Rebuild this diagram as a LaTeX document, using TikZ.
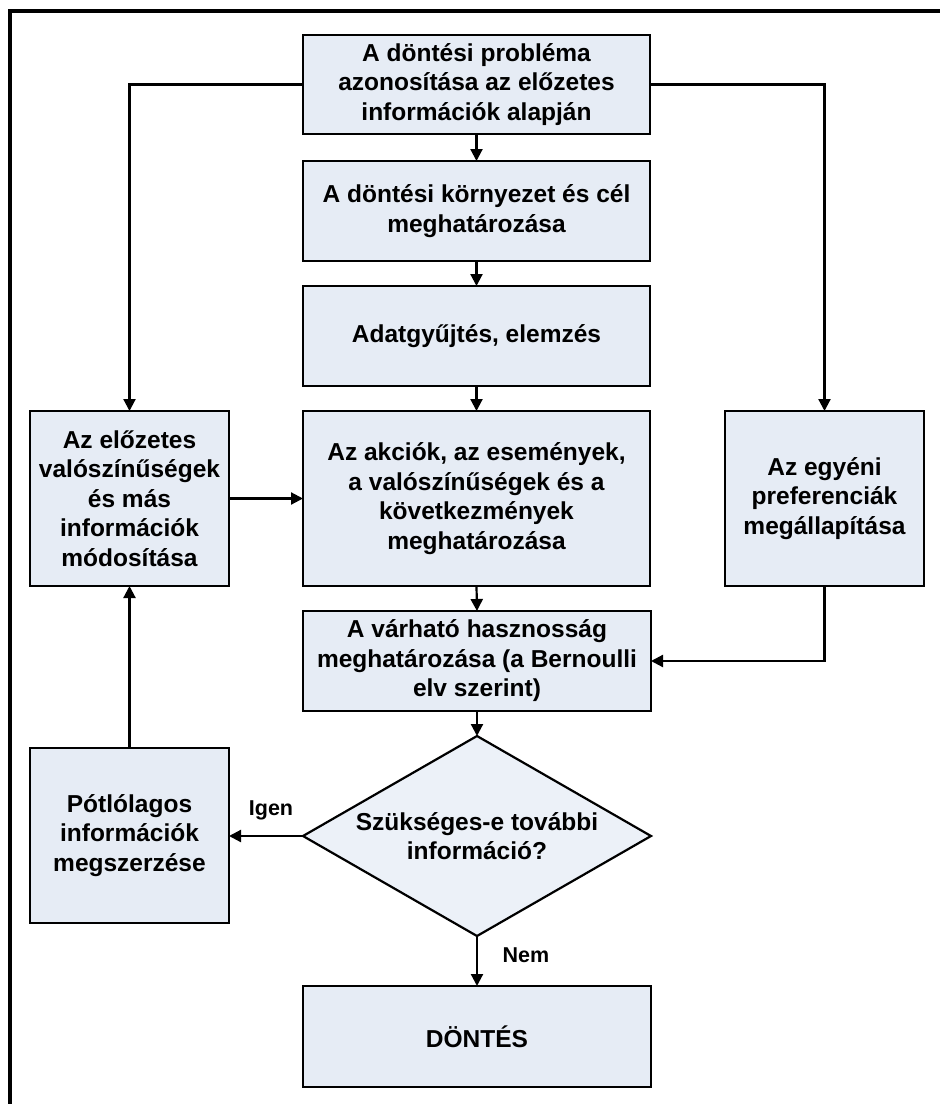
\documentclass[tikz,border=0pt]{standalone}
\usepackage{fontspec}
\setmainfont{Liberation Sans}
\usetikzlibrary{shapes.geometric,arrows.meta}
\definecolor{boxfill}{RGB}{230,236,245}
\definecolor{diafill}{RGB}{236,241,248}
\begin{document}
\begin{tikzpicture}[x=1pt,y=-1pt,
  box/.style={draw=black,line width=2.2pt,fill=boxfill,align=center,
    font=\fontsize{24.5}{29.5}\selectfont\bfseries,inner sep=0pt,outer sep=0pt},
  conn/.style={line width=2.2pt,-{Triangle[length=12pt,width=12pt]}},
  lbl/.style={font=\fontsize{21.5}{24}\selectfont\bfseries,inner sep=0pt}]
\useasboundingbox (0,0) rectangle (942,1104);
\fill[white] (-4,-4) rectangle (946,1108);
\draw[line width=3.8pt] (10,1110) -- (10,10.8) -- (940,10.8);

\node[box,minimum width=347pt,minimum height=99pt] (n1) at (476.5,84.5)
  {A döntési probléma\\azonosítása az előzetes\\információk alapján};
\node[box,minimum width=347pt,minimum height=100pt] (n2) at (476.5,211)
  {A döntési környezet és cél\\meghatározása};
\node[box,minimum width=347pt,minimum height=100pt] (n3) at (476.5,336)
  {Adatgyűjtés, elemzés};
\node[box,minimum width=347pt,minimum height=175pt] (n4) at (476.5,498.5)
  {Az akciók, az események,\\a valószínűségek és a\\következmények\\meghatározása};
\node[box,minimum width=199pt,minimum height=175pt] (L) at (129.5,498.5)
  {Az előzetes\\valószínűségek\\és más\\információk\\módosítása};
\node[box,minimum width=199pt,minimum height=175pt] (R) at (824.5,498.5)
  {Az egyéni\\preferenciák\\megállapítása};
\node[box,minimum width=348pt,minimum height=100pt] (n5) at (477,661)
  {A várható hasznosság\\meghatározása (a Bernoulli\\elv szerint)};
\node[box,diamond,fill=diafill,aspect=1.74,minimum width=348pt,minimum height=200pt] (D) at (477,836)
  {Szükséges-e további\\információ?};
\node[box,minimum width=348pt,minimum height=101pt] (n6) at (477,1036.5)
  {DÖNTÉS};
\node[box,minimum width=199pt,minimum height=175pt] (P) at (129.5,835.5)
  {Pótlólagos\\információk\\megszerzése};

\draw[conn] (n1.west) -| (L.north);
\draw[conn] (n1.east) -| (R.north);
\draw[conn] (n1.south) -- (n2.north);
\draw[conn] (n2.south) -- (n3.north);
\draw[conn] (n3.south) -- (n4.north);
\draw[conn] (n4.south) -- (n5.north);
\draw[conn] (n5.south) -- (D.north);
\draw[conn] (L.east) -- (L.east -| n4.west);
\draw[conn] (R.south) |- (n5.east);
\draw[conn] (D.west) -- (D.west -| P.east);
\draw[conn] (P.north) -- (L.south);
\draw[conn] (D.south) -- (n6.north);
\node[lbl] (igen) at (271,810) {Igen};
\node[lbl] (nem) at (526,955) {Nem};
\end{tikzpicture}
\end{document}
